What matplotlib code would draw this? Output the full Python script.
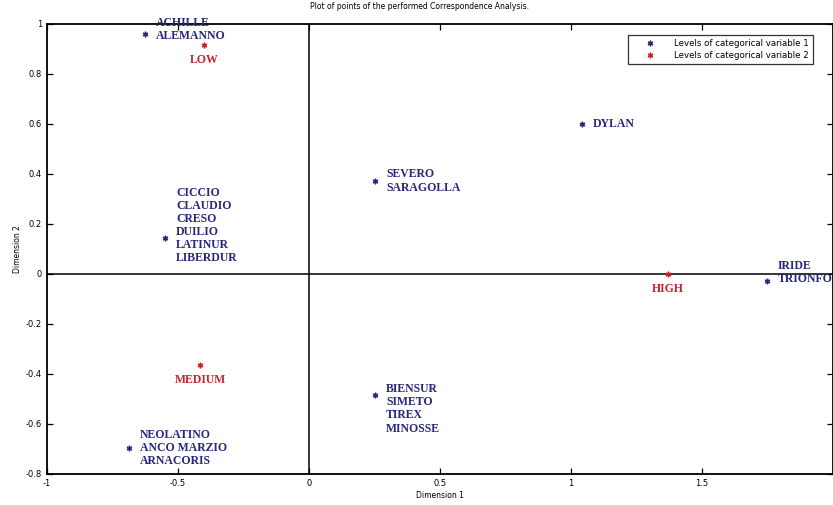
import numpy as np
import matplotlib.pyplot as plt

# category coordinates on the first two dimensions
var1_labels = ['ACHILLE\nALEMANNO',
               'CICCIO\nCLAUDIO\nCRESO\nDUILIO\nLATINUR\nLIBERDUR',
               'SEVERO\nSARAGOLLA',
               'DYLAN',
               'IRIDE\nTRIONFO',
               'BIENSUR\nSIMETO\nTIREX\nMINOSSE',
               'NEOLATINO\nANCO MARZIO\nARNACORIS']
var1_x = [-0.626, -0.55, 0.252, 1.042, 1.748, 0.252, -0.687]
var1_y = [0.96, 0.144, 0.372, 0.60, -0.028, -0.484, -0.696]

var2_labels = ['LOW', 'MEDIUM', 'HIGH']
var2_x = [-0.40, -0.416, 1.37]
var2_y = [0.916, -0.364, 0.0]

# vertical shift of each text block (points) so the marker sits on the right line
var1_dy = [3, 9, 0, 0, 6, -10, 0]

navy = '#26267a'
red = '#c8202c'
star = (6, 2, 0)

fig = plt.figure(figsize=(8.33, 5.05), dpi=100)
ax = fig.add_axes([0.0564, 0.0614, 0.9436, 0.8911])

ax.axhline(0, color='black', lw=1.1, zorder=1)
ax.axvline(0, color='black', lw=1.1, zorder=1)

ax.plot(var1_x, var1_y, ls='none', marker=star, ms=4, mew=1.0, color=navy,
        label='Levels of categorical variable 1')
ax.plot(var2_x, var2_y, ls='none', marker=star, ms=4, mew=1.0, color=red,
        label='Levels of categorical variable 2')

for lab, x, y, dy in zip(var1_labels, var1_x, var1_y, var1_dy):
    ax.annotate(lab, (x, y), xytext=(8, dy), textcoords='offset points',
                ha='left', va='center', color=navy, fontsize=8.5,
                family='Liberation Serif', weight='bold', linespacing=1.12)

for lab, x, y in zip(var2_labels, var2_x, var2_y):
    ax.annotate(lab, (x, y), xytext=(0, -11), textcoords='offset points',
                ha='center', va='center', color=red, fontsize=8.5,
                family='Liberation Serif', weight='bold')

ax.set_xlim(-1, 2)
ax.set_ylim(-0.8, 1)
ax.set_xticks([-1, -0.5, 0, 0.5, 1, 1.5, 2])
ax.set_xticklabels(['-1', '-0.5', '0', '0.5', '1', '1.5', ''])
ax.set_yticks(np.round(np.arange(-0.8, 1.01, 0.2), 1))
ax.set_yticklabels(['-0.8', '-0.6', '-0.4', '-0.2', '0', '0.2', '0.4', '0.6', '0.8', '1'])
ax.tick_params(direction='in', top=True, right=True, labelsize=6, length=4, width=0.9)
for s in ax.spines.values():
    s.set_linewidth(1.3)

fig.text(0.504, 0.988, 'Plot of points of the performed Correspondence Analysis.',
         fontsize=5.5, ha='center', va='center')
ax.set_xlabel('Dimension 1', fontsize=5.5, labelpad=2)
ax.set_ylabel('Dimension 2', fontsize=5.5, labelpad=3)

leg = ax.legend(loc='upper right', bbox_to_anchor=(0.98, 0.985), fontsize=6.2,
                fancybox=False, edgecolor='black', handlelength=4, borderpad=0.5,
                labelspacing=0.3)
leg.get_frame().set_linewidth(0.9)

fig.savefig('out.png', dpi=100)
